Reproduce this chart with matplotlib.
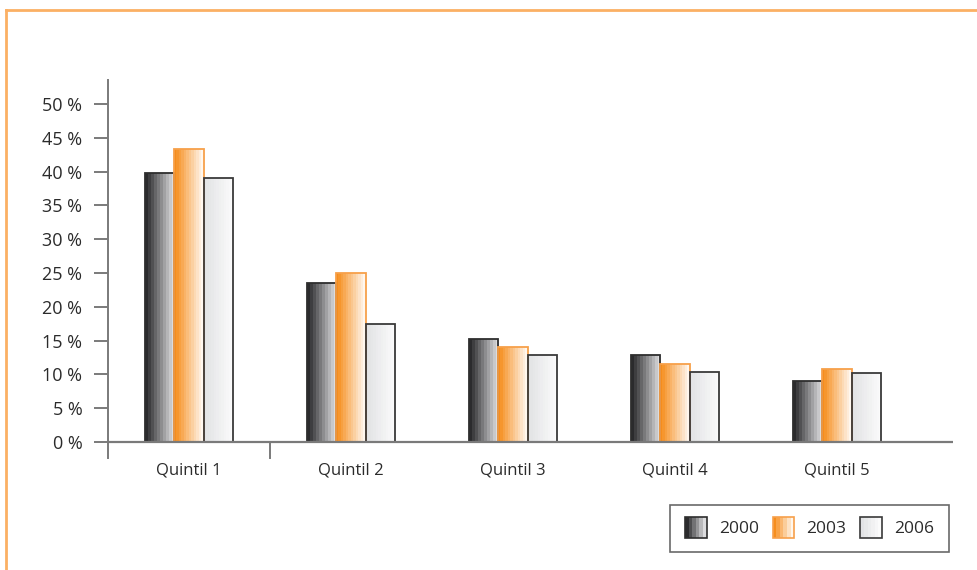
import matplotlib
matplotlib.use("Agg")
import matplotlib.pyplot as plt
import numpy as np
from matplotlib.colors import LinearSegmentedColormap
from matplotlib.patches import Rectangle
from matplotlib.legend_handler import HandlerBase
from matplotlib.lines import Line2D

categories = ["Quintil 1", "Quintil 2", "Quintil 3", "Quintil 4", "Quintil 5"]
years = ["2000", "2003", "2006"]
v2000 = [39.8, 23.5, 15.2, 12.8, 9.0]
v2003 = [43.3, 25.0, 14.1, 11.5, 10.8]
v2006 = [39.0, 17.4, 12.8, 10.3, 10.2]
yticks = [0, 5, 10, 15, 20, 25, 30, 35, 40, 45, 50]
ytick_labels = [f"{t} %" for t in yticks]

series = [v2000, v2003, v2006]
grad = {
    "2000": ("#2b2b2d", "#dcdcde", 10, "#2e2e2e"),
    "2003": ("#f68d1c", "#fff7ee", 12, "#f7a04a"),
    "2006": ("#e2e3e5", "#fbfbfb", 12, "#3a3a3a"),
}

plt.rcParams['font.family'] = ['Open Sans', 'DejaVu Sans']
TXT = "#2b2b2b"
AX = "#7a7a7a"

fig = plt.figure(figsize=(9.78, 5.70), dpi=100)
ax = fig.add_axes([108/978, (570-458)/570, (953-108)/978, (458-80)/570])

def banded(c0, c1, n):
    cmap = LinearSegmentedColormap.from_list("g", [c0, c1])
    return np.linspace(0, 1, n)[None, :], cmap

x = np.arange(len(categories))
w = 29.5/162
for i, (yr, vals) in enumerate(zip(years, series)):
    c0, c1, n, ec = grad[yr]
    bars = ax.bar(x + (i-1)*w, vals, width=w, facecolor="none",
                  edgecolor=ec, linewidth=1.3, zorder=3)
    arr, cmap = banded(c0, c1, n)
    for b in bars:
        x0, y0 = b.get_x(), b.get_y()
        im = ax.imshow(arr, cmap=cmap, extent=(x0, x0+b.get_width(), y0, y0+b.get_height()),
                       aspect="auto", interpolation="nearest", zorder=2)
        im.set_clip_path(b)
ax.set_xlim(-0.5, (953-189)/162)
ymin = -(458-442)/6.76
ax.set_ylim(ymin, (442-80)/6.76)

for s in ["top", "right", "bottom"]:
    ax.spines[s].set_visible(False)
ax.spines["left"].set_color(AX)
ax.spines["left"].set_linewidth(1.4)
ax.axhline(0, color=AX, linewidth=1.6, zorder=4)
ax.plot([0.5, 0.5], [ymin, 0], color=AX, linewidth=1.4, clip_on=False, zorder=4)

ax.set_yticks(yticks)
ax.set_yticklabels(ytick_labels, fontsize=13, color=TXT)
ax.tick_params(axis="y", length=10, width=1.4, color=AX, pad=8.5)
ax.set_xticks(x)
ax.set_xticklabels(categories, fontsize=12, color=TXT)
ax.tick_params(axis="x", length=0, pad=3)

class GradHandler(HandlerBase):
    def __init__(self, yr):
        super().__init__()
        self.yr = yr
    def create_artists(self, legend, orig_handle, xdescent, ydescent, width, height, fontsize, trans):
        c0, c1, n, ec = grad[self.yr]
        cmap = LinearSegmentedColormap.from_list("g", [c0, c1])
        nb = 6
        arts = []
        hh = height*1.3
        y0 = -ydescent - (hh-height)/2
        for k in range(nb):
            r = Rectangle((-xdescent + k*width/nb, y0), width/nb, hh,
                          facecolor=cmap(k/(nb-1)), edgecolor="none", transform=trans)
            arts.append(r)
        arts.append(Rectangle((-xdescent, y0), width, hh, facecolor="none",
                              edgecolor=ec, linewidth=1.2, transform=trans))
        return arts

handles = [Rectangle((0, 0), 1, 1) for _ in years]
leg = fig.legend(handles, years, loc="upper right", bbox_to_anchor=(949/978, (570-505)/570),
                 ncol=3, fontsize=12.5, frameon=True, fancybox=False, borderaxespad=0,
                 handler_map={h: GradHandler(y) for h, y in zip(handles, years)},
                 handlelength=1.25, handleheight=1.0, handletextpad=0.7, columnspacing=0.8,
                 borderpad=0.85)
leg.get_frame().set_edgecolor("#444444")
leg.get_frame().set_linewidth(1.2)
for t in leg.get_texts():
    t.set_color(TXT)

OR = "#fbb064"
fig.add_artist(Line2D([6/978, 1], [1-10/570]*2, color=OR, linewidth=2, transform=fig.transFigure))
fig.add_artist(Line2D([6/978]*2, [0, 1-10/570], color=OR, linewidth=2, transform=fig.transFigure))

fig.savefig("out.png", dpi=100)
